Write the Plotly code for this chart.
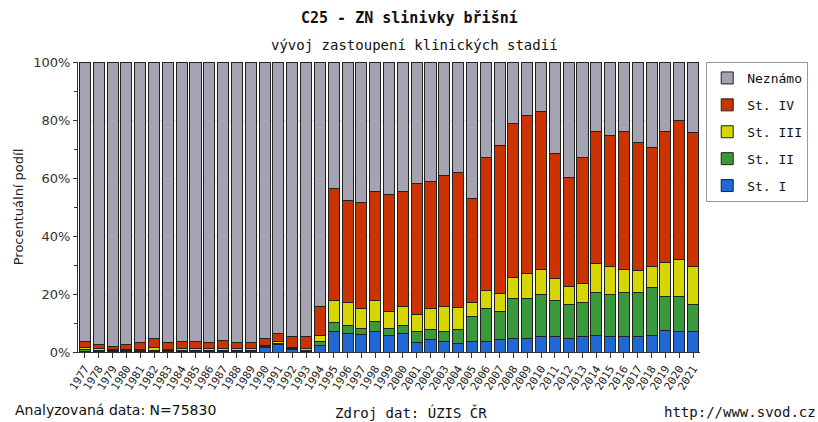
import plotly.graph_objects as go

years = [str(y) for y in range(1977, 2022)]

st1 = [0.3, 0.2, 0.2, 0.2, 0.3, 0.3, 0.2, 0.3, 0.3, 0.2, 0.3, 0.3, 0.3, 1.7, 2.5, 1.0, 0.3, 2.2,
       7.2, 6.3, 5.9, 7.2, 5.8, 6.3, 3.2, 4.3, 3.7, 2.9, 3.7, 3.7, 4.3, 4.8, 4.8, 5.2, 5.2, 4.8,
       5.2, 5.8, 5.2, 5.2, 5.2, 5.7, 7.5, 7.2, 7.2]
st2 = [0.4, 0.3, 0.2, 0.3, 0.3, 0.3, 0.3, 0.3, 0.3, 0.3, 0.3, 0.3, 0.3, 0.3, 0.4, 0.3, 0.3, 1.5,
       2.9, 2.8, 2.3, 3.3, 2.4, 2.8, 4.0, 3.5, 3.5, 4.9, 8.4, 11.4, 9.6, 13.5, 13.5, 14.5, 12.6, 11.6,
       11.8, 14.6, 14.6, 15.2, 15.2, 16.7, 11.8, 12.1, 9.1]
st3 = [1.0, 0.7, 0.3, 0.4, 0.4, 1.0, 0.5, 0.5, 0.5, 0.8, 0.6, 0.5, 0.5, 0.4, 0.6, 0.4, 0.7, 2.0,
       7.8, 7.9, 6.9, 7.4, 5.7, 6.7, 5.7, 7.2, 8.6, 7.7, 4.9, 6.2, 6.3, 7.3, 8.8, 8.7, 7.4, 6.3,
       6.6, 10.0, 9.7, 8.0, 7.7, 7.1, 11.7, 12.6, 13.2]
st4 = [1.8, 1.4, 1.3, 1.7, 2.2, 2.9, 2.2, 2.4, 2.4, 1.9, 2.8, 2.1, 2.1, 2.1, 3.0, 3.5, 3.9, 9.9,
       38.4, 35.4, 36.3, 37.3, 40.4, 39.4, 45.2, 43.7, 45.2, 46.5, 35.8, 45.7, 51.0, 53.1, 54.5, 54.6, 43.2, 37.4,
       43.4, 45.7, 45.2, 47.7, 44.0, 40.9, 45.1, 48.1, 46.1]
neznamo = [96.5, 97.4, 98.0, 97.4, 96.8, 95.5, 96.8, 96.5, 96.5, 96.8, 96.0, 96.8, 96.8, 95.5, 93.5, 94.8, 94.8, 84.4,
           43.7, 47.6, 48.6, 44.8, 45.7, 44.8, 41.9, 41.3, 39.0, 38.0, 47.2, 33.0, 28.8, 21.3, 18.4, 17.0, 31.6, 39.9,
           33.0, 23.9, 25.3, 23.9, 27.9, 29.6, 23.9, 20.0, 24.4]

series = [
    ("St. I", st1, "#1f68d6", 5),
    ("St. II", st2, "#3a993a", 4),
    ("St. III", st3, "#d6d600", 3),
    ("St. IV", st4, "#cc3300", 2),
    ("Neznámo", neznamo, "#a3a3b1", 1),
]

fig = go.Figure()
for name, vals, col, rank in series:
    fig.add_trace(go.Bar(
        x=years, y=vals, name=name, legendgroup=name, legendrank=rank,
        marker=dict(color=col, line=dict(color="#222222", width=1)),
    ))

mono = "DejaVu Sans Mono"
sans = "DejaVu Sans"

W, H = 818, 422
l, r, t, b = 78, 118, 62, 70
pw, ph = W - l - r, H - t - b

def px2paper(px, py):
    return (px - l) / pw, (H - b - py) / ph

texts = [
    ("<b>C25 - ZN slinivky břišní</b>", 409, 18, "center", mono, 15),
    ("vývoj zastoupení klinických stadií", 414, 45, "center", mono, 14),
    ("Analyzovaná data: N=75830", 13, 410, "left", sans, 14),
    ("Zdroj dat: ÚZIS ČR", 411, 412, "center", mono, 14),
    ("http://www.svod.cz", 818, 412, "right", mono, 14),
]
anns = []
for txt, x, y, anchor, fam, size in texts:
    xp, yp = px2paper(x, y)
    anns.append(dict(text=txt, x=xp, y=yp, xref="paper", yref="paper", xanchor=anchor,
                     yanchor="middle", showarrow=False,
                     font=dict(family=fam, size=size, color="#111111")))

fig.update_layout(
    barmode="stack",
    bargap=0.2,
    width=W, height=H,
    margin=dict(l=l, r=r, t=t, b=b, autoexpand=False),
    paper_bgcolor="white",
    plot_bgcolor="white",
    showlegend=True,
    legend=dict(
        x=1.01, y=1.0, xanchor="left", yanchor="top",
        traceorder="grouped",
        tracegroupgap=7,
        bordercolor="#999999", borderwidth=1,
        bgcolor="white",
        font=dict(family=mono, size=13, color="#111111"),
        itemwidth=30,
    ),
    xaxis=dict(
        type="category",
        tickmode="array",
        tickvals=years,
        ticktext=years,
        tickangle=-58,
        tickfont=dict(family=mono, size=11, color="#222222"),
        showline=True, linecolor="#333333", linewidth=1,
        ticks="outside", ticklen=5, tickcolor="#333333",
        showgrid=False,
        automargin=False,
    ),
    yaxis=dict(
        range=[0, 100],
        tickvals=[0, 20, 40, 60, 80, 100],
        ticktext=["0%", "20%", "40%", "60%", "80%", "100%"],
        tickfont=dict(family=sans, size=13, color="#333333"),
        showline=True, linecolor="#333333", linewidth=1,
        ticks="outside", ticklen=4, tickcolor="#333333",
        showgrid=True, gridcolor="#dfe3ea", gridwidth=1,
        minor=dict(dtick=10, ticks="outside", ticklen=3, tickcolor="#333333", showgrid=False),
        title=dict(text="Procentuální podíl", font=dict(family=sans, size=13, color="#222222"), standoff=6),
        automargin=False,
    ),
    annotations=anns,
)

fig.write_html("out.html", config={"displayModeBar": False},
               post_script="document.body.style.margin='0px';document.body.style.padding='0px';")
